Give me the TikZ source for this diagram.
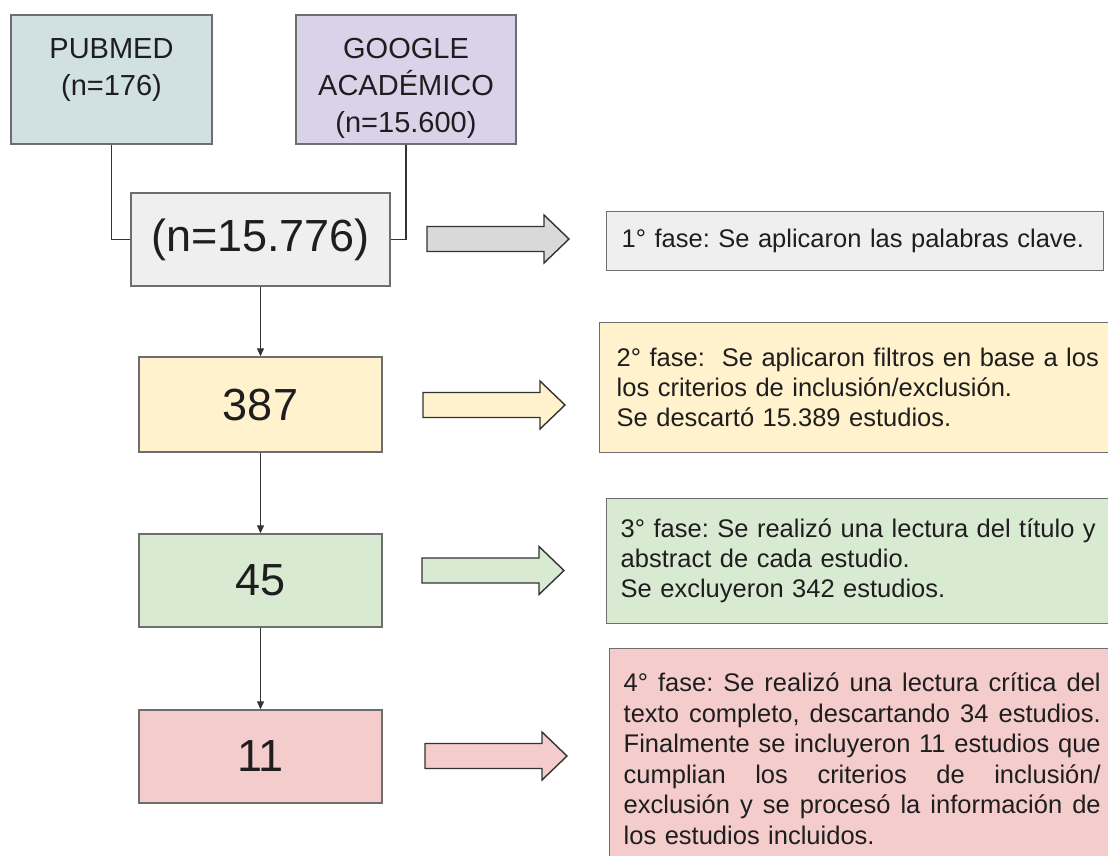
\documentclass[tikz,border=0pt]{standalone}
\usepackage{fontspec}
\setmainfont{Liberation Sans}
\usetikzlibrary{arrows.meta}
\definecolor{cPub}{HTML}{D0E0E3}
\definecolor{cGoo}{HTML}{D9D2E9}
\definecolor{cGray}{HTML}{EFEFEF}
\definecolor{cArrGray}{HTML}{D9D9D9}
\definecolor{cYel}{HTML}{FFF2CC}
\definecolor{cGrn}{HTML}{D9EAD3}
\definecolor{cRed}{HTML}{F4CCCC}
\definecolor{cBorder}{HTML}{6E6E6E}
\definecolor{cLine}{HTML}{333333}
\definecolor{cText}{HTML}{1E1E1E}
\newcommand\myjline[1]{\makebox[477pt][s]{\spaceskip=0pt\xspaceskip=0pt\relax #1}}
\begin{document}
\begin{tikzpicture}[x=1pt,y=-1pt,
  box/.style={draw=cBorder, line width=1.4pt, rectangle, inner sep=0pt, text=cText},
  srcbox/.style={box, font=\fontsize{29}{37}\selectfont, align=center},
  numbox/.style={box, font=\fontsize{45}{54}\selectfont, minimum width=243, minimum height=93},
  phasebox/.style={box, font=\fontsize{25.5}{30}\selectfont\frenchspacing, align=left, anchor=north west},
  conn/.style={draw=cLine, line width=1.2pt},
  flow/.style={conn, -{Triangle[length=8pt,width=7pt]}},
  blockarrow/.style={draw=cLine, line width=1.4pt, line join=miter},
  pics/barrow/.style={code={\draw[blockarrow, fill=#1] (0,-12.5) -- (117,-12.5) -- (117,-24) -- (142,0) -- (117,24) -- (117,12.5) -- (0,12.5) -- cycle;}},
]
\clip (0,0) rectangle (1108,855);
\fill[white] (0,0) rectangle (1108,855);

% sources
\node[srcbox, fill=cPub, minimum width=201, minimum height=129] (pub) at (111.5,79.5)
  {\rule{0pt}{37pt}PUBMED\\(n=176)\\\rule[-6pt]{0pt}{6pt}};
\node[srcbox, fill=cGoo, minimum width=220, minimum height=129] (goo) at (406,79.5)
  {\rule{0pt}{37pt}GOOGLE\\ACADÉMICO\\(n=15.600)};

% left column
\node[numbox, fill=cGray, minimum width=259] (ctr) at (260.5,239.5) {(n=15.776)};
\node[numbox, fill=cYel, minimum height=95] (n387) at (260.5,404.5) {387};
\node[numbox, fill=cGrn] (n45) at (260.5,580.5) {45};
\node[numbox, fill=cRed] (n11) at (260.5,756.5) {11};

\draw[conn] (pub.south) |- (ctr.west);
\draw[conn] (goo.south) |- (ctr.east);
\draw[flow] (ctr) -- (n387);
\draw[flow] (n387) -- (n45);
\draw[flow] (n45) -- (n11);

% block arrows
\pic (a1) at (427,239) {barrow=cArrGray};
\pic (a2) at (423,405) {barrow=cYel};
\pic (a3) at (422,570.5) {barrow=cGrn};
\pic (a4) at (425,756) {barrow=cRed};

% phase boxes
\node[phasebox, fill=cGray, minimum width=497, minimum height=59, inner xsep=15, text width=467] (p1) at (606,211)
  {1° fase: Se aplicaron las palabras clave.};
\node[phasebox, fill=cYel, minimum width=526, minimum height=130, inner xsep=17, text width=492] (p2) at (599,322)
  {2° fase:\ \ Se aplicaron filtros en base a los\\los criterios de inclusión/exclusión.\\Se descartó 15.389 estudios.};
\node[phasebox, fill=cGrn, minimum width=519, minimum height=125, inner xsep=14, text width=491] (p3) at (606,498)
  {3° fase: Se realizó una lectura del título y\\abstract de cada estudio.\\Se excluyeron 342 estudios.};
\node[phasebox, fill=cRed, font=\fontsize{25.5}{30.6}\selectfont\frenchspacing, minimum width=505, minimum height=220, inner xsep=14, text width=477] (p4) at (609,648)
  {\myjline{4° fase: Se realizó una lectura crítica del}\\
   \myjline{texto completo, descartando 34 estudios.}\\
   \myjline{Finalmente se incluyeron 11 estudios que}\\
   \myjline{cumplian los criterios de inclusión/}\\
   \myjline{exclusión y se procesó la información de}\\
   los estudios incluidos.};
\end{tikzpicture}
\end{document}
